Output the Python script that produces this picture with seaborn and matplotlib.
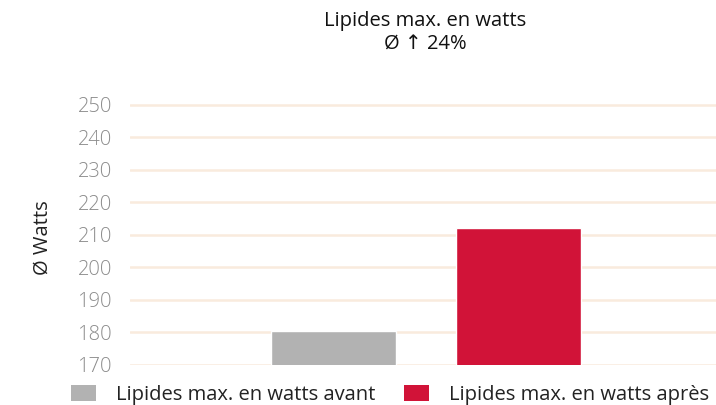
import matplotlib
matplotlib.use("Agg")
import matplotlib.pyplot as plt
import seaborn as sns
import pandas as pd
from matplotlib.patches import Patch

categories = ["Lipides max. en watts avant", "Lipides max. en watts après"]
values = [180.5, 212]
colors = ["#b2b2b2", "#d11338"]
yticks = [170, 180, 190, 200, 210, 220, 230, 240, 250]
title = "Lipides max. en watts\nØ ↑ 24%"
ylabel = "Ø Watts"

sns.set_theme(style="white")
plt.rcParams['font.family'] = ['Open Sans', 'DejaVu Sans']

df = pd.DataFrame({"cat": categories, "val": values})

fig = plt.figure(figsize=(7.16, 4.05), dpi=100)
ax = fig.add_axes([130/716, 1 - 365/405, (716-130)/716, (365-100)/405])

sns.barplot(data=df, x="cat", y="val", hue="cat", palette=colors, ax=ax,
            width=0.676, legend=False, saturation=1, dodge=False)

ax.set_ylim(170, 251.5)
ax.set_xlim(-1.1, 2.07)
ax.set_yticks(yticks)
ax.set_yticklabels([str(t) for t in yticks], color="#8c8c8c", fontsize=14.5,
                   fontweight="light")
ax.tick_params(axis="y", length=0, pad=13)
ax.set_xticks([])
ax.set_xlabel("")
ax.set_ylabel("")
for s in ax.spines.values():
    s.set_visible(False)
ax.grid(axis="y", color="#f9ebdd", linewidth=1.8)
ax.set_axisbelow(True)

fig.text(43/716, 1 - 238/405, ylabel, rotation=90, ha="center", va="center",
         fontsize=14.5, color="#222222")
fig.text(425/716, 1 - 33/405, title, ha="center", va="center", fontsize=14.5,
         color="#111111", linespacing=1.25)

handles = [Patch(facecolor=c, edgecolor="none") for c in colors]
fig.legend(handles, categories, loc="center", bbox_to_anchor=(390/716, 1 - 395/405),
           ncol=2, frameon=False, fontsize=14.5, handlelength=1.25, handleheight=0.8,
           handletextpad=1.0, columnspacing=1.4, labelcolor="#222222")

fig.savefig("out.png", dpi=100)
